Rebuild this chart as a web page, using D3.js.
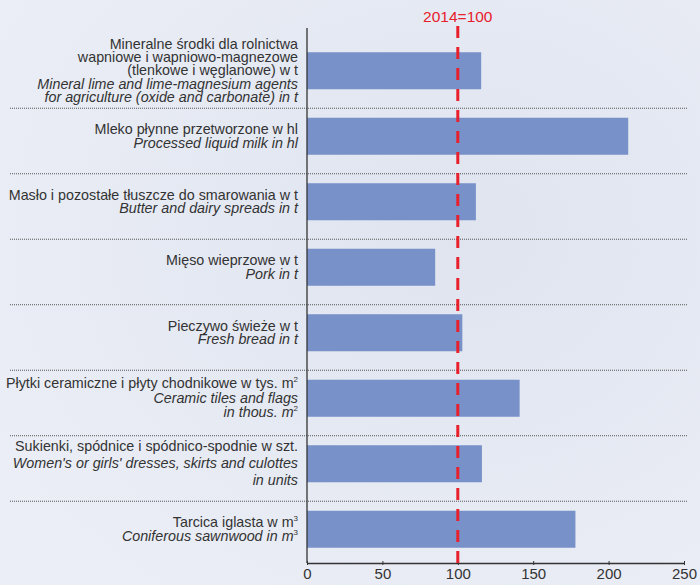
<!DOCTYPE html>
<html>
<head>
<meta charset="utf-8">
<script src="https://cdn.jsdelivr.net/npm/d3@7"></script>
<style>
  body { margin: 0; }
  text { font-family: "Liberation Sans", Arial, sans-serif; }
</style>
</head>
<body>
<div id="vis"></div>
<script>
// data: index 2014=100, one entry per product (top to bottom)
// "^" marks a superscript character
var labelsPl = [
  ["Mineralne środki dla rolnictwa", "wapniowe i wapniowo-magnezowe", "(tlenkowe i węglanowe) w t"],
  ["Mleko płynne przetworzone w hl"],
  ["Masło i pozostałe tłuszcze do smarowania w t"],
  ["Mięso wieprzowe w t"],
  ["Pieczywo świeże w t"],
  ["Płytki ceramiczne i płyty chodnikowe w tys. m^2"],
  ["Sukienki, spódnice i spódnico-spodnie w szt."],
  ["Tarcica iglasta w m^3"]
];
var labelsEn = [
  ["Mineral lime and lime-magnesium agents", "for agriculture (oxide and carbonate) in t"],
  ["Processed liquid milk in hl "],
  ["Butter and dairy spreads in t"],
  ["Pork in t"],
  ["Fresh bread in t"],
  ["Ceramic tiles and flags", "in thous. m^2"],
  ["Women's or girls' dresses, skirts and culottes", "in units"],
  ["Coniferous sawnwood in m^3"]
];
var values = [115.5, 213, 112, 85, 103, 141, 116, 178];
var xTicks = [0, 50, 100, 150, 200, 250];
var refValue = 100;
var refLabel = "2014=100";

// svg properties
var svgWidth = 700;
var svgHeight = 585;

var svg = d3.select('#vis').append('svg')
  .attr('width', svgWidth)
  .attr('height', svgHeight);

// background gradient
var defs = svg.append('defs');
var grad = defs.append('radialGradient')
  .attr('id', 'bg')
  .attr('cx', '65%').attr('cy', '40%').attr('r', '75%');
grad.append('stop').attr('offset', '0%').attr('stop-color', '#dfe4ef');
grad.append('stop').attr('offset', '100%').attr('stop-color', '#ebeef6');

svg.append('rect')
  .attr('width', svgWidth)
  .attr('height', svgHeight)
  .attr('fill', 'url(#bg)');

// scales
var axisX = 307, axisTop = 28, axisBottom = 563;
var xScale = d3.scaleLinear().domain([0, 250]).range([axisX, 684]);
var idx = d3.range(values.length);
var yScale = d3.scaleBand().domain(idx).range([38, 562])
  .paddingInner(0.435).paddingOuter(0.2175);

var textColor = '#333333';
var labelRight = 298;
// line spacing per row (px), the layout of the original is not uniform
var lineGap = [13.3, 13.5, 13.5, 13.5, 13.5, 14.5, 17, 13.5];

// dotted separators between rows
idx.slice(1).forEach(function (i) {
  svg.append('line')
    .attr('x1', 10).attr('x2', 687)
    .attr('y1', yScale(i) - 9.5).attr('y2', yScale(i) - 9.5)
    .attr('stroke', '#555')
    .attr('stroke-width', 1)
    .attr('stroke-dasharray', '1,1');
});

// bars
svg.selectAll('.bar')
  .data(values)
  .enter().append('rect')
  .attr('class', 'bar')
  .attr('x', xScale(0))
  .attr('y', function (d, i) { return yScale(i); })
  .attr('width', function (d) { return xScale(d) - xScale(0); })
  .attr('height', yScale.bandwidth())
  .attr('fill', '#7891c9');

// row labels
function addLine(g, str, y, italic) {
  var t = g.append('text')
    .attr('x', labelRight)
    .attr('y', y)
    .attr('text-anchor', 'end')
    .attr('font-size', 14.3)
    .attr('fill', textColor)
    .attr('font-style', italic ? 'italic' : 'normal');
  var parts = str.split('^');
  t.append('tspan').text(parts[0]);
  if (parts.length > 1) {
    t.append('tspan').attr('dy', -6).attr('font-size', 8).attr('font-style', 'normal').text(parts[1]);
  }
}

idx.forEach(function (i) {
  var lines = labelsPl[i].map(function (s) { return {s: s, it: false}; })
    .concat(labelsEn[i].map(function (s) { return {s: s, it: true}; }));
  var lh = lineGap[i];
  var cy = yScale(i) + yScale.bandwidth() / 2;
  var first = cy - (lines.length - 1) * lh / 2 + 4.5;
  var g = svg.append('g');
  lines.forEach(function (l, k) {
    addLine(g, l.s, first + k * lh, l.it);
  });
});

// axes
svg.append('line')
  .attr('x1', axisX).attr('x2', axisX)
  .attr('y1', axisTop).attr('y2', axisBottom)
  .attr('stroke', '#333').attr('stroke-width', 1.3);

var xAxis = svg.append('g')
  .attr('transform', 'translate(0,' + axisBottom + ')')
  .call(d3.axisBottom(xScale).tickValues(xTicks).tickSize(3).tickSizeOuter(0));
xAxis.select('.domain').attr('stroke', '#333').attr('stroke-width', 1.3);
xAxis.selectAll('.tick line').attr('stroke', '#333').attr('y1', -2).attr('y2', 2);
xAxis.selectAll('.tick text')
  .attr('font-size', 15)
  .attr('font-family', '"Liberation Sans", Arial, sans-serif')
  .attr('fill', textColor)
  .attr('dy', '0.95em')
  .attr('y', 2);

// reference line 2014=100
svg.append('line')
  .attr('x1', xScale(refValue)).attr('x2', xScale(refValue))
  .attr('y1', 26).attr('y2', axisBottom + 2)
  .attr('stroke', '#e8202c')
  .attr('stroke-width', 3)
  .attr('stroke-dasharray', '12,9');

svg.append('text')
  .attr('x', xScale(refValue))
  .attr('y', 22)
  .attr('text-anchor', 'middle')
  .attr('font-size', 15.5)
  .attr('fill', '#e8202c')
  .text(refLabel);
</script>
</body>
</html>
